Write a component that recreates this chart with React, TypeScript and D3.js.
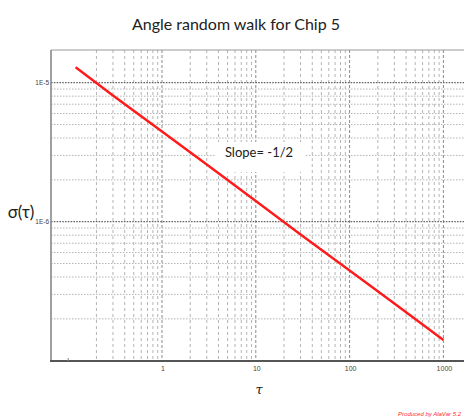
import React from "react";
import * as d3 from "d3";

// Allan deviation readings for the angle random walk region
const tauValues = [0.12, 0.3, 1, 3, 10, 30, 100, 300, 1000];
const sigmaValues = [1.29e-5, 8.1e-6, 4.45e-6, 2.58e-6, 1.41e-6, 8.1e-7, 4.46e-7, 2.58e-7, 1.41e-7];

const xTickValues = [1, 10, 100, 1000];
const xTickLabels = ["1", "10", "100", "1000"];
const yTickValues = [1e-5, 1e-6];
const yTickLabels = ["1E-5", "1E-6"];

const titleText = "Angle random walk for Chip 5";
const slopeText = "Slope= -1/2";
const yAxisTitle = "σ(τ)";
const xAxisTitle = "τ";
const creditText = "Produced by AlaVar 5.2";

const W = 464;
const H = 419;
const plot = { left: 51, right: 470, top: 50, bottom: 361 };

export default function App() {
  const x = d3.scaleLog().domain([1, 1000]).range([162, 443.4]);
  const y = d3.scaleLog().domain([1e-5, 1e-6]).range([82.7, 221.7]);

  const minorX: number[] = [];
  [0.1, 1, 10, 100, 1000].forEach((d) => {
    for (let k = 2; k <= 9; k++) minorX.push(d * k);
  });
  const minorY: number[] = [];
  [1e-7, 1e-6].forEach((d) => {
    for (let k = 2; k <= 9; k++) minorY.push(d * k);
  });

  const line = d3
    .line<number>()
    .x((_, i) => x(tauValues[i]))
    .y((d) => y(d));

  const font = "Lato, 'Open Sans', sans-serif";

  return (
    <svg
      width={W}
      height={H}
      style={{ position: "absolute", left: 0, top: 0, background: "#fff" }}
    >
      <defs>
        <clipPath id="plotArea">
          <rect
            x={plot.left}
            y={plot.top}
            width={plot.right - plot.left}
            height={plot.bottom - plot.top}
          />
        </clipPath>
      </defs>

      <text
        x={236}
        y={30}
        textAnchor="middle"
        fontFamily={font}
        fontSize={16}
        fill="#222"
      >
        {titleText}
      </text>

      <g clipPath="url(#plotArea)">
        {minorX.map((v) => (
          <line
            key={"vx" + v}
            x1={x(v)}
            x2={x(v)}
            y1={plot.top}
            y2={plot.bottom}
            stroke="#b4b4b4"
            strokeWidth={1}
            strokeDasharray="3,3"
          />
        ))}
        {xTickValues.map((v) => (
          <line
            key={"VX" + v}
            x1={x(v)}
            x2={x(v)}
            y1={plot.top}
            y2={plot.bottom}
            stroke="#8a8a8a"
            strokeWidth={1}
            strokeDasharray="3,2"
          />
        ))}
        {minorY.map((v) => (
          <line
            key={"hy" + v}
            x1={plot.left}
            x2={plot.right}
            y1={y(v)}
            y2={y(v)}
            stroke="#b4b4b4"
            strokeWidth={1}
            strokeDasharray="1.5,1.5"
          />
        ))}
        {yTickValues.map((v) => (
          <line
            key={"HY" + v}
            x1={plot.left}
            x2={plot.right}
            y1={y(v)}
            y2={y(v)}
            stroke="#666"
            strokeWidth={1.3}
            strokeDasharray="1.6,1.2"
          />
        ))}

        <rect x={216} y={142} width={90} height={30} fill="#fff" />

        <path
          d={line(sigmaValues) || ""}
          fill="none"
          stroke="#ff1a1a"
          strokeWidth={2.4}
        />
      </g>

      {/* frame */}
      <line x1={plot.left} x2={plot.right} y1={plot.top} y2={plot.top} stroke="#999" strokeWidth={1} />
      <line x1={plot.left} x2={plot.left} y1={plot.top} y2={plot.bottom + 1} stroke="#888" strokeWidth={1.6} />
      <line x1={plot.left - 1} x2={plot.right} y1={plot.bottom} y2={plot.bottom} stroke="#555" strokeWidth={2} />
      <line x1={x(0.1)} x2={x(0.1)} y1={plot.bottom - 3} y2={plot.bottom} stroke="#888" strokeWidth={1} />

      {xTickValues.map((v, i) => (
        <text
          key={"xl" + v}
          x={x(v) + 1}
          y={371}
          textAnchor="middle"
          fontFamily="'Liberation Sans Narrow', 'Liberation Sans', sans-serif"
          fontSize={7}
          fill="#444"
        >
          {xTickLabels[i]}
        </text>
      ))}
      {yTickValues.map((v, i) => (
        <text
          key={"yl" + v}
          x={49}
          y={y(v) + 2}
          textAnchor="end"
          fontFamily="'Liberation Sans Narrow', 'Liberation Sans', sans-serif"
          fontSize={6.5}
          fill="#444"
        >
          {yTickLabels[i]}
        </text>
      ))}

      <text x={259} y={157} fontFamily={font} fontSize={13} fill="#222" textAnchor="middle">
        {slopeText}
      </text>

      <text x={21} y={218} textAnchor="middle" fontFamily={font} fontSize={17} fill="#222">
        {yAxisTitle}
      </text>
      <text
        x={259}
        y={394}
        textAnchor="middle"
        fontFamily="'DejaVu Serif', serif"
        fontStyle="italic"
        fontSize={13}
        fill="#222"
      >
        {xAxisTitle}
      </text>

      <text
        x={461}
        y={416}
        textAnchor="end"
        fontFamily="'Liberation Sans Narrow', 'Liberation Sans', sans-serif"
        fontStyle="italic"
        fontSize={6}
        fill="#ff2a2a"
      >
        {creditText}
      </text>
    </svg>
  );
}
